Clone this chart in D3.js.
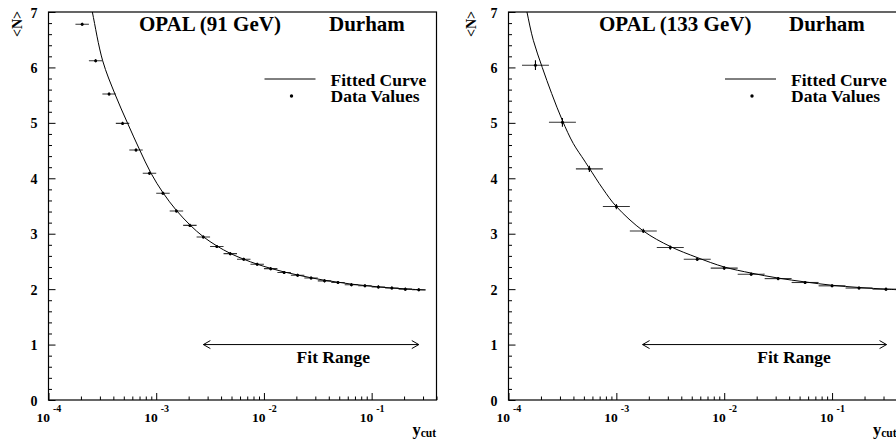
<!DOCTYPE html>
<html>
<head>
<meta charset="utf-8">
<script src="https://cdn.jsdelivr.net/npm/d3@7"></script>
<style>
  html, body { margin: 0; padding: 0; background: #fff; }
  svg { display: block; }
  svg text { font-family: "Liberation Serif", "Times New Roman", Times, serif !important; font-weight: bold; fill: #000; }
</style>
</head>
<body>
<svg id="chart" width="896" height="440"></svg>
<script>
// ---------------- DATA ----------------
const yTickValues = [0, 1, 2, 3, 4, 5, 6, 7];
const xDecadeExponents = [-4, -3, -2, -1];

// 91 GeV panel
const ycut91 = [2.054e-4, 2.738e-4, 3.652e-4, 4.870e-4, 6.494e-4, 8.660e-4,
  1.155e-3, 1.540e-3, 2.054e-3, 2.738e-3, 3.652e-3, 4.870e-3, 6.494e-3, 8.660e-3,
  1.155e-2, 1.540e-2, 2.054e-2, 2.738e-2, 3.652e-2, 4.870e-2, 6.494e-2, 8.660e-2,
  0.1155, 0.1540, 0.2054, 0.2738];
const n91 = [6.78, 6.12, 5.52, 4.99, 4.51, 4.09, 3.73, 3.41, 3.15, 2.94, 2.77, 2.64,
  2.54, 2.45, 2.37, 2.30, 2.25, 2.20, 2.15, 2.12, 2.08, 2.06, 2.04, 2.02, 2.00, 1.99];
const nErr91 = [0.01, 0.01, 0.01, 0.01, 0.01, 0.01, 0.01, 0.01, 0.01, 0.01, 0.01, 0.01,
  0.01, 0.01, 0.01, 0.01, 0.01, 0.01, 0.01, 0.01, 0.01, 0.01, 0.01, 0.01, 0.01, 0.01];
const curveYcut91 = [2.275e-4, 2.553e-4, 3.184e-4, 4.140e-4, 5.433e-4, 7.031e-4, 8.954e-4,
  1.155e-3, 1.540e-3, 2.054e-3, 2.738e-3, 3.652e-3, 4.870e-3, 6.494e-3, 8.660e-3,
  1.155e-2, 1.540e-2, 2.054e-2, 2.738e-2, 3.652e-2, 4.870e-2, 6.494e-2, 8.660e-2,
  0.1155, 0.1540, 0.2054, 0.2738, 0.3162];
const curveN91 = [7.5, 7.0, 6.12, 5.52, 4.99, 4.51, 4.09, 3.74, 3.42, 3.16, 2.945, 2.78, 2.645,
  2.54, 2.45, 2.375, 2.31, 2.255, 2.205, 2.16, 2.125, 2.09, 2.065, 2.04, 2.02, 2.005, 1.99, 1.985];
const fitRange91 = [2.74e-3, 0.274];

// 133 GeV panel
const ycut133 = [1.778e-4, 3.162e-4, 5.623e-4, 1.0e-3, 1.778e-3, 3.162e-3, 5.623e-3,
  1.0e-2, 1.778e-2, 3.162e-2, 5.623e-2, 0.1, 0.1778, 0.3162];
const n133 = [6.04, 5.01, 4.17, 3.49, 3.05, 2.75, 2.54, 2.38, 2.27, 2.19, 2.12, 2.06, 2.02, 2.00];
const nErr133 = [0.07, 0.06, 0.04, 0.03, 0.02, 0.02, 0.015, 0.015, 0.01, 0.01, 0.01, 0.01, 0.01, 0.01];
const curveYcut133 = [1.349e-4, 1.483e-4, 1.698e-4, 2.056e-4, 2.512e-4, 3.162e-4, 3.981e-4,
  5.012e-4, 5.623e-4, 7.499e-4, 1.0e-3, 1.778e-3, 3.162e-3, 5.623e-3, 1.0e-2, 1.778e-2,
  3.162e-2, 5.623e-2, 0.1, 0.1778, 0.3162, 0.4];
const curveN133 = [7.4, 7.0, 6.49, 6.00, 5.53, 5.04, 4.63, 4.33, 4.18, 3.81, 3.49, 3.05,
  2.77, 2.57, 2.40, 2.29, 2.20, 2.13, 2.07, 2.03, 2.00, 1.99];
const fitRange133 = [1.75e-3, 0.32];

const titles = [["OPAL (91 GeV)", "Durham"], ["OPAL (133 GeV)", "Durham"]];
const legendLabels = ["Fitted Curve", "Data Values"];
const fitLabel = "Fit Range";
const yLabel = "<N>";

// ---------------- DRAW ----------------
const svg = d3.select("#chart");
const SERIF = '"Liberation Serif", "Times New Roman", Times, serif';

function txt(sel, size) {
  return sel.style("font-family", SERIF).style("font-weight", "bold").style("font-size", size + "px");
}

const panels = [
  { left: 48.5, right: 436.5, ylabX: 17, halfBin: 0.0625,
    ycut: ycut91, n: n91, nErr: nErr91, cx: curveYcut91, cy: curveN91, fit: fitRange91, title: titles[0] },
  { left: 508.5, right: 897, ylabX: 471, halfBin: 0.125,
    ycut: ycut133, n: n133, nErr: nErr133, cx: curveYcut133, cy: curveN133, fit: fitRange133, title: titles[1] }
];

const plotTop = 12, plotBottom = 400;

panels.forEach((p, pi) => {
  const g = svg.append("g");
  const x = d3.scaleLog().domain([1e-4, 0.4]).range([p.left, p.right]);
  const y = d3.scaleLinear().domain([0, 7]).range([plotBottom, plotTop]);

  const clipId = "clip" + pi;
  svg.append("clipPath").attr("id", clipId).append("rect")
    .attr("x", p.left).attr("y", plotTop).attr("width", p.right - p.left).attr("height", plotBottom - plotTop);

  // y minor ticks
  const yMinor = d3.range(0, 7.001, 0.2).filter(v => Math.abs(v - Math.round(v)) > 1e-6);
  g.append("g").attr("transform", `translate(${p.left},0)`)
    .call(d3.axisLeft(y).tickValues(yMinor).tickSize(-3.5).tickFormat(""))
    .call(s => s.select(".domain").remove())
    .selectAll("line").attr("stroke", "#000").attr("stroke-width", 1);
  // y major ticks + labels
  const ya = g.append("g").attr("transform", `translate(${p.left},0)`)
    .call(d3.axisLeft(y).tickValues(yTickValues).tickSize(-7).tickPadding(11).tickFormat(d3.format("d")));
  ya.select(".domain").remove();
  ya.selectAll("line").attr("stroke", "#000").attr("stroke-width", 1);
  txt(ya.selectAll("text"), 14).attr("dy", "0.36em");

  // x minor ticks
  const xMinor = [];
  xDecadeExponents.forEach(e => { for (let k = 2; k <= 9; k++) { const v = k * Math.pow(10, e); if (v <= 0.4) xMinor.push(v); } });
  g.append("g").attr("transform", `translate(0,${plotBottom})`)
    .call(d3.axisBottom(x).tickValues(xMinor).tickSize(-3.5).tickFormat(""))
    .call(s => s.select(".domain").remove())
    .selectAll("line").attr("stroke", "#000").attr("stroke-width", 1);
  const majors = xDecadeExponents.map(e => Math.pow(10, e));
  g.append("g").attr("transform", `translate(0,${plotBottom})`)
    .call(d3.axisBottom(x).tickValues(majors).tickSize(-7).tickFormat(""))
    .call(s => s.select(".domain").remove())
    .selectAll("line").attr("stroke", "#000").attr("stroke-width", 1);
  // x labels 10^e
  xDecadeExponents.forEach(e => {
    const tx = x(Math.pow(10, e));
    txt(g.append("text"), 13.5).attr("x", tx + 1.5).attr("y", 421.5).attr("text-anchor", "end").text("10");
    txt(g.append("text"), 10).attr("x", tx + 4.5).attr("y", 411.5).attr("text-anchor", "start").text(String(e));
  });

  // frame
  g.append("rect").attr("x", p.left).attr("y", plotTop).attr("width", p.right - p.left)
    .attr("height", plotBottom - plotTop).attr("fill", "none").attr("stroke", "#000").attr("stroke-width", 1.2);

  // axis titles
  txt(g.append("text"), 14).attr("transform", `translate(${p.ylabX + 5},24) rotate(-90)`)
    .attr("text-anchor", "middle").text(yLabel);
  const yc = txt(g.append("text"), 16.5).attr("x", p.right - 24).attr("y", 434.5);
  yc.append("tspan").text("y");
  yc.append("tspan").style("font-size", "11.5px").attr("dy", 2).text("cut");

  // titles
  txt(g.append("text"), 21).attr("x", p.left + 90.5).attr("y", 31).text(p.title[0]);
  txt(g.append("text"), 21).attr("x", p.left + 280.5).attr("y", 31).text(p.title[1]);

  // legend
  const lr = p.right;
  g.append("line").attr("x1", lr - 172).attr("x2", lr - 121).attr("y1", 79).attr("y2", 79)
    .attr("stroke", "#000").attr("stroke-width", 1);
  g.append("circle").attr("cx", lr - 145).attr("cy", 96).attr("r", 1.7).attr("fill", "#000");
  txt(g.append("text"), 17.5).attr("x", lr - 106).attr("y", 85.5).text(legendLabels[0]);
  txt(g.append("text"), 17.5).attr("x", lr - 106).attr("y", 101.5).text(legendLabels[1]);

  // data error bars and points
  const pg = g.append("g").attr("clip-path", `url(#${clipId})`);
  const f = Math.pow(10, p.halfBin);
  p.ycut.forEach((v, i) => {
    pg.append("line").attr("x1", x(v / f)).attr("x2", x(v * f))
      .attr("y1", y(p.n[i])).attr("y2", y(p.n[i])).attr("stroke", "#333").attr("stroke-width", 1.1);
    pg.append("line").attr("x1", x(v)).attr("x2", x(v))
      .attr("y1", y(p.n[i] - p.nErr[i]) + 1).attr("y2", y(p.n[i] + p.nErr[i]) - 1)
      .attr("stroke", "#000").attr("stroke-width", 1.1);
    pg.append("circle").attr("cx", x(v)).attr("cy", y(p.n[i])).attr("r", 1.5).attr("fill", "#000");
  });

  // fitted curve
  const line = d3.line().x(d => x(d[0])).y(d => y(d[1])).curve(d3.curveCatmullRom.alpha(0.5));
  pg.append("path").datum(p.cx.map((v, i) => [v, p.cy[i]]))
    .attr("d", line).attr("fill", "none").attr("stroke", "#000").attr("stroke-width", 1);

  // fit range arrow
  const ax1 = x(p.fit[0]), ax2 = x(p.fit[1]), ay = y(1);
  g.append("line").attr("x1", ax1).attr("x2", ax2).attr("y1", ay).attr("y2", ay)
    .attr("stroke", "#000").attr("stroke-width", 1);
  g.append("path").attr("d", `M${ax1 + 7},${ay - 4}L${ax1},${ay}L${ax1 + 7},${ay + 4}`)
    .attr("fill", "none").attr("stroke", "#000").attr("stroke-width", 1);
  g.append("path").attr("d", `M${ax2 - 7},${ay - 4}L${ax2},${ay}L${ax2 - 7},${ay + 4}`)
    .attr("fill", "none").attr("stroke", "#000").attr("stroke-width", 1);
  txt(g.append("text"), 17.5).attr("x", p.left + (pi === 0 ? 284.8 : 285.5)).attr("y", 363.3)
    .attr("text-anchor", "middle").text(fitLabel);
});
</script>
</body>
</html>
